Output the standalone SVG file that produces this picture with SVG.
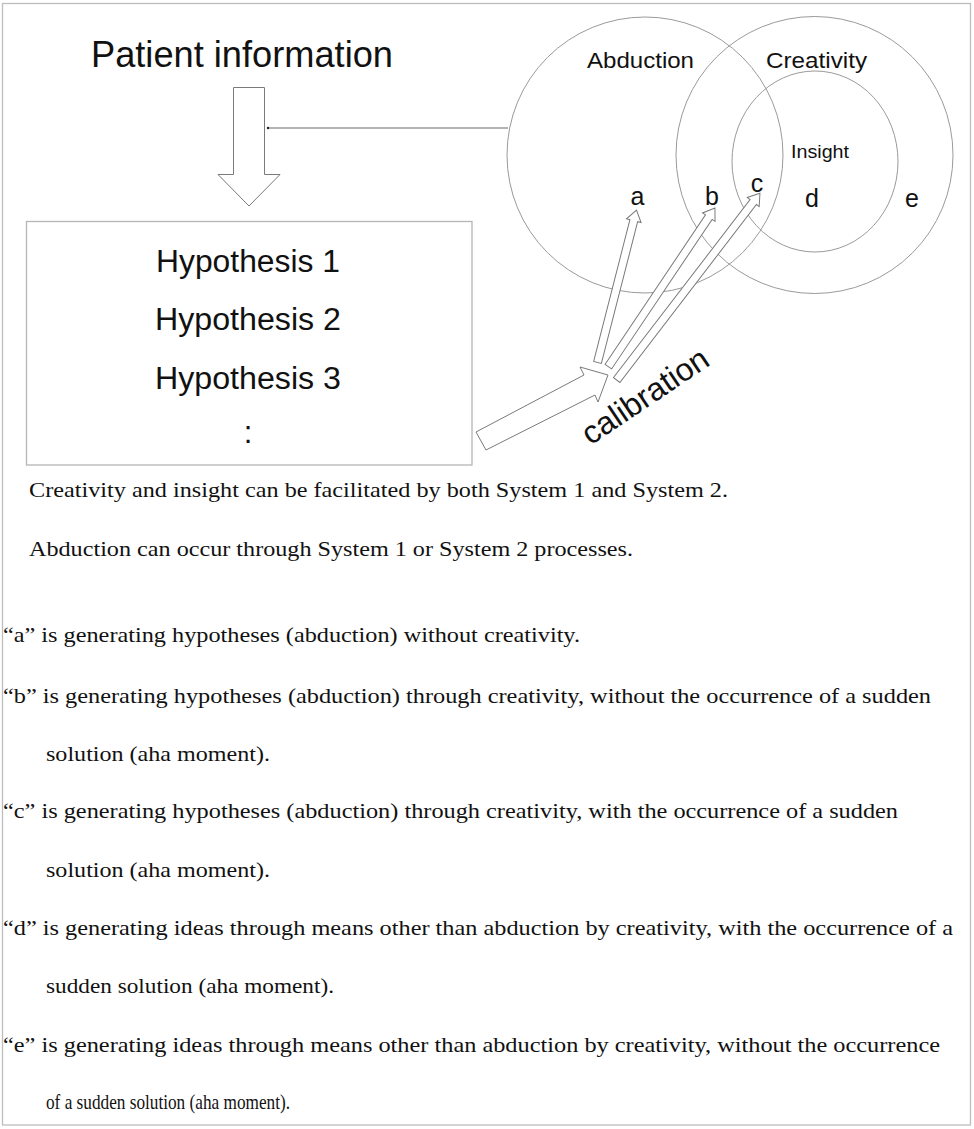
<svg xmlns="http://www.w3.org/2000/svg" width="974" height="1129" viewBox="0 0 974 1129">
<style>
.sans{font-family:"Liberation Sans",Arial,sans-serif;fill:#111}
.serif{font-family:"Liberation Serif","Times New Roman",serif;fill:#111;font-size:22px}
.ring{fill:none;stroke:#9a9a9a;stroke-width:1}
.arr{fill:#fff;stroke:#7a7a7a;stroke-width:1;stroke-linejoin:miter}
.line{stroke:#9a9a9a;stroke-width:1.3;fill:none}
</style>
<rect x="2.5" y="3.5" width="968" height="1121.5" fill="#fff" stroke="#bdbdbd" stroke-width="1.3"/>

<g id="patient-info">
<text class="sans" x="91" y="67" font-size="36" textLength="302" lengthAdjust="spacingAndGlyphs">Patient information</text>
</g>

<g id="hypotheses">
<rect x="26.5" y="221.5" width="445.5" height="243.5" fill="#fff" stroke="#b5b5b5" stroke-width="1.3"/>
<text class="sans" x="248" y="272" font-size="31" text-anchor="middle" textLength="184" lengthAdjust="spacingAndGlyphs">Hypothesis 1</text>
<text class="sans" x="248" y="330" font-size="31" text-anchor="middle" textLength="186" lengthAdjust="spacingAndGlyphs">Hypothesis 2</text>
<text class="sans" x="248" y="389" font-size="31" text-anchor="middle" textLength="186" lengthAdjust="spacingAndGlyphs">Hypothesis 3</text>
<text class="sans" x="248" y="443" font-size="31" text-anchor="middle">:</text>
</g>

<g id="abduction">
<circle class="ring" cx="645" cy="155" r="138"/>
<text class="sans" x="587" y="68" font-size="22" textLength="107" lengthAdjust="spacingAndGlyphs">Abduction</text>
</g>
<g id="creativity">
<circle class="ring" cx="814.5" cy="155" r="138.5"/>
<text class="sans" x="766" y="68" font-size="22" textLength="101" lengthAdjust="spacingAndGlyphs">Creativity</text>
</g>
<g id="insight">
<ellipse class="ring" cx="815" cy="161.5" rx="83" ry="90.5"/>
<text class="sans" x="791" y="158" font-size="18" textLength="58" lengthAdjust="spacingAndGlyphs">Insight</text>
</g>
<g id="regions">
<text class="sans" x="637.5" y="205" font-size="25" text-anchor="middle">a</text>
<text class="sans" x="712" y="205" font-size="25" text-anchor="middle">b</text>
<text class="sans" x="757" y="192" font-size="25" text-anchor="middle">c</text>
<text class="sans" x="812" y="207" font-size="25" text-anchor="middle">d</text>
<text class="sans" x="912" y="207" font-size="25" text-anchor="middle">e</text>
</g>

<g id="connectors">
<polygon class="arr" points="233.5,87.5 264.5,87.5 264.5,174.5 280,174.5 249,206 218,174.5 233.5,174.5"/>
<line class="line" x1="268" y1="128" x2="508" y2="128"/>
<circle cx="268" cy="128" r="1.2" fill="#222"/>
<polygon class="arr" points="476,432 584,375 580,367 608,375 598,402 595,395 486,450"/>
<g transform="translate(597.5,362.5) rotate(-75.65)">
<polygon class="arr" points="0,-4 146.4,-4 146.4,-7.5 157.4,0 146.4,7.5 146.4,4 0,4"/>
</g>
<g transform="translate(608.3,366.7) rotate(-56.1)">
<polygon class="arr" points="0,-4 180.2,-4 180.2,-7.5 191.2,0 180.2,7.5 180.2,4 0,4"/>
</g>
<g transform="translate(616.7,380) rotate(-52.5)">
<polygon class="arr" points="0,-4 224.3,-4 224.3,-7.5 235.3,0 224.3,7.5 224.3,4 0,4"/>
</g>
</g>

<g id="calibration">
<text class="sans" font-size="32" text-anchor="middle" transform="translate(651,405) rotate(-34)">calibration</text>
</g>

<g id="notes">
<text class="serif" x="29" y="497" textLength="699" lengthAdjust="spacingAndGlyphs">Creativity and insight can be facilitated by both System 1 and System 2.</text>
<text class="serif" x="29" y="556" textLength="604" lengthAdjust="spacingAndGlyphs">Abduction can occur through System 1 or System 2 processes.</text>
<text class="serif" x="3" y="642" textLength="577" lengthAdjust="spacingAndGlyphs">“a” is generating hypotheses (abduction) without creativity.</text>
<text class="serif" x="3" y="703" textLength="928" lengthAdjust="spacingAndGlyphs">“b” is generating hypotheses (abduction) through creativity, without the occurrence of a sudden</text>
<text class="serif" x="46" y="761" textLength="224" lengthAdjust="spacingAndGlyphs">solution (aha moment).</text>
<text class="serif" x="3" y="818" textLength="895" lengthAdjust="spacingAndGlyphs">“c” is generating hypotheses (abduction) through creativity, with the occurrence of a sudden</text>
<text class="serif" x="46" y="877" textLength="224" lengthAdjust="spacingAndGlyphs">solution (aha moment).</text>
<text class="serif" x="3" y="935" textLength="950" lengthAdjust="spacingAndGlyphs">“d” is generating ideas through means other than abduction by creativity, with the occurrence of a</text>
<text class="serif" x="46" y="993" textLength="288" lengthAdjust="spacingAndGlyphs">sudden solution (aha moment).</text>
<text class="serif" x="3" y="1052" textLength="937" lengthAdjust="spacingAndGlyphs">“e” is generating ideas through means other than abduction by creativity, without the occurrence</text>
<text class="serif" x="46" y="1109" textLength="244" lengthAdjust="spacingAndGlyphs">of a sudden solution (aha moment).</text>
</g>
</svg>
